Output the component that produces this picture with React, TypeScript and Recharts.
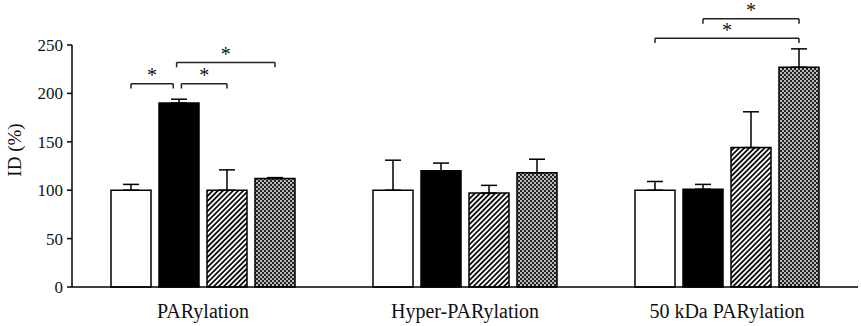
import React from "react";
import {
  BarChart,
  Bar,
  XAxis,
  YAxis,
  ErrorBar,
  ReferenceLine,
  ReferenceDot,
} from "recharts";

// groups on the x axis
const categories = ["PARylation", "Hyper-PARylation", "50 kDa PARylation"];

// four conditions per group (white, black, hatched, checkered)
const whiteVals = [100, 100, 100];
const whiteErr = [6, 31, 9];
const blackVals = [190, 120, 101];
const blackErr = [4, 8, 5];
const hatchVals = [100, 97, 144];
const hatchErr = [21, 8, 37];
const checkVals = [112, 118, 227];
const checkErr = [1, 14, 19];

const yTicks = [0, 50, 100, 150, 200, 250];

// significance brackets: group index, bar from/to (0..3), height in % units
const brackets = [
  { group: 0, from: 0, to: 0.88, level: 210 },
  { group: 0, from: 1.05, to: 2, level: 210 },
  { group: 0, from: 0.95, to: 3, level: 232 },
  { group: 2, from: 0, to: 3, level: 257 },
  { group: 2, from: 1, to: 3, level: 277 },
];

const data = categories.map((name, i) => ({
  name,
  pos: i + 0.5,
  white: whiteVals[i],
  whiteE: [0, whiteErr[i]],
  black: blackVals[i],
  blackE: [0, blackErr[i]],
  hatch: hatchVals[i],
  hatchE: [0, hatchErr[i]],
  check: checkVals[i],
  checkE: [0, checkErr[i]],
}));

const WIDTH = 861;
const HEIGHT = 326;
const BAR_SIZE = 40;
const BAR_GAP = 8;
const CAT_GAP = 39;
const BAND = 262;

// bar j center inside group g, in units of the hidden numeric axis (one unit per group)
const barPos = (g: number, j: number) =>
  g + 0.5 + ((j - 1.5) * (BAR_SIZE + BAR_GAP)) / BAND;

const font = "'Liberation Serif', 'Times New Roman', serif";

const Star = (props: any) => (
  <text
    x={props.cx}
    y={props.cy + 9}
    textAnchor="middle"
    fontSize={20}
    fontFamily={font}
    fill="#111"
  >
    *
  </text>
);

const YLabel = () => {
  const x = 14;
  const y = 150;
  return (
    <text
      x={x}
      y={y}
      transform={`rotate(-90, ${x}, ${y})`}
      textAnchor="middle"
      dominantBaseline="central"
      fontSize={19}
      fontFamily={font}
      fill="#111"
    >
      ID (%)
    </text>
  );
};

export default function App() {
  return (
    <div style={{ position: "absolute", left: 0, top: 0, background: "#fff" }}>
      <BarChart
        width={WIDTH}
        height={HEIGHT}
        data={data}
        margin={{ top: 45, right: 3, bottom: 9, left: 0 }}
        barGap={BAR_GAP}
        barCategoryGap={CAT_GAP}
      >
        <defs>
          <pattern
            id="hatch"
            patternUnits="userSpaceOnUse"
            width="3.6"
            height="3.6"
            patternTransform="rotate(45)"
          >
            <rect width="3.6" height="3.6" fill="#fff" />
            <line x1="0.9" y1="0" x2="0.9" y2="3.6" stroke="#000" strokeWidth="1.7" />
          </pattern>
          <pattern id="check" patternUnits="userSpaceOnUse" width="4" height="4">
            <rect width="4" height="4" fill="#222" />
            <rect x="0" y="0" width="2" height="2" fill="#bbb" />
            <rect x="2" y="2" width="2" height="2" fill="#bbb" />
          </pattern>
        </defs>
        <XAxis
          dataKey="name"
          height={30}
          stroke="#000"
          strokeWidth={1.5}
          tickLine={false}
          tickMargin={11}
          tick={{ fontSize: 20, fontFamily: font, fill: "#111" }}
        />
        <XAxis
          xAxisId="pos"
          dataKey="pos"
          type="number"
          domain={[0, 3]}
          allowDataOverflow
          height={0}
          hide
        />
        <YAxis
          domain={[0, 250]}
          ticks={yTicks}
          width={72}
          stroke="#000"
          strokeWidth={1.5}
          tickSize={5}
          tickMargin={4}
          tick={{ fontSize: 17, fontFamily: font, fill: "#111" }}
          label={<YLabel />}
        />
        <Bar dataKey="white" fill="#fff" stroke="#000" strokeWidth={1.5} barSize={BAR_SIZE} isAnimationActive={false}>
          <ErrorBar dataKey="whiteE" direction="y" width={8} stroke="#000" strokeWidth={1.5} />
        </Bar>
        <Bar dataKey="black" fill="#000" stroke="#000" strokeWidth={1.5} barSize={BAR_SIZE} isAnimationActive={false}>
          <ErrorBar dataKey="blackE" direction="y" width={8} stroke="#000" strokeWidth={1.5} />
        </Bar>
        <Bar dataKey="hatch" fill="url(#hatch)" stroke="#000" strokeWidth={1.5} barSize={BAR_SIZE} isAnimationActive={false}>
          <ErrorBar dataKey="hatchE" direction="y" width={8} stroke="#000" strokeWidth={1.5} />
        </Bar>
        <Bar dataKey="check" fill="url(#check)" stroke="#000" strokeWidth={1.5} barSize={BAR_SIZE} isAnimationActive={false}>
          <ErrorBar dataKey="checkE" direction="y" width={8} stroke="#000" strokeWidth={1.5} />
        </Bar>
        {brackets.map((b, i) => {
          const x1 = barPos(b.group, b.from);
          const x2 = barPos(b.group, b.to);
          const drop = 5;
          return (
            <React.Fragment key={i}>
              <ReferenceLine
                xAxisId="pos"
                ifOverflow="visible"
                stroke="#222"
                strokeWidth={1.5}
                segment={[
                  { x: x1, y: b.level - drop },
                  { x: x1, y: b.level },
                ]}
              />
              <ReferenceLine
                xAxisId="pos"
                ifOverflow="visible"
                stroke="#222"
                strokeWidth={1.5}
                segment={[
                  { x: x1, y: b.level },
                  { x: x2, y: b.level },
                ]}
              />
              <ReferenceLine
                xAxisId="pos"
                ifOverflow="visible"
                stroke="#222"
                strokeWidth={1.5}
                segment={[
                  { x: x2, y: b.level },
                  { x: x2, y: b.level - drop },
                ]}
              />
              <ReferenceDot
                xAxisId="pos"
                x={(x1 + x2) / 2}
                y={b.level + 11}
                r={0}
                ifOverflow="visible"
                shape={<Star />}
              />
            </React.Fragment>
          );
        })}
      </BarChart>
    </div>
  );
}
